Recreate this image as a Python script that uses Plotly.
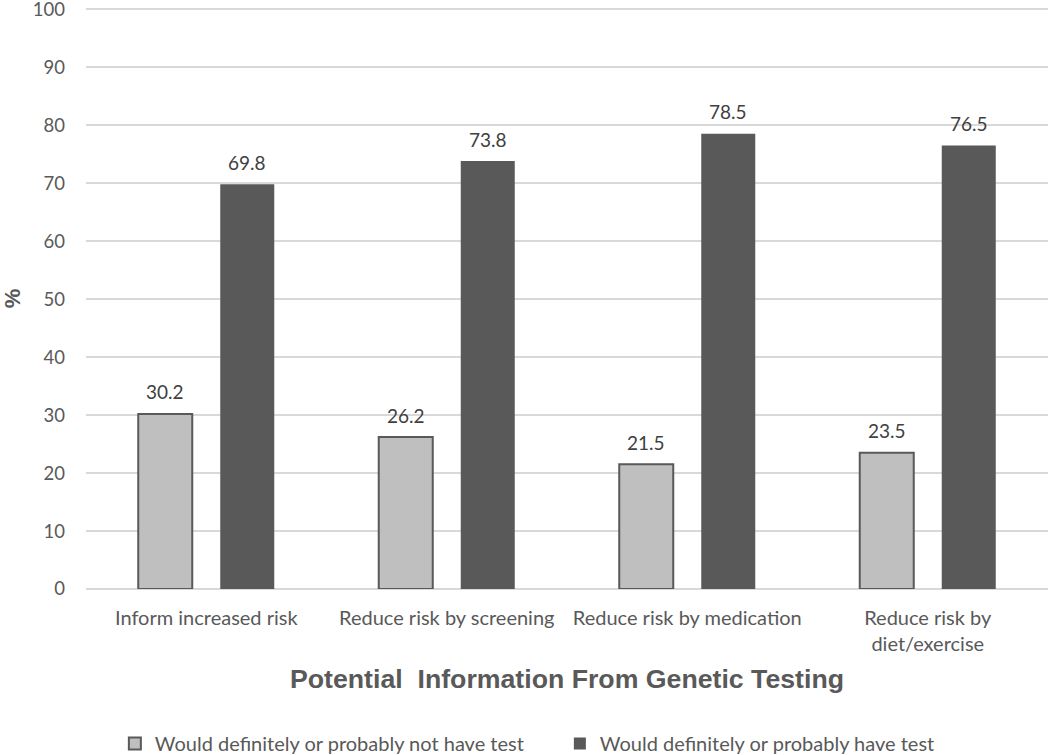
import plotly.graph_objects as go

categories = ["Inform increased risk", "Reduce risk by screening",
              "Reduce risk by medication", "Reduce risk by<br>diet/exercise"]
not_have = [30.2, 26.2, 21.5, 23.5]
have = [69.8, 73.8, 78.5, 76.5]
series_names = ["Would definitely or probably not have test",
                "Would definitely or probably have test"]

FONT = "Lato, 'Open Sans', sans-serif"
BOLD = "'Liberation Sans', Arial, sans-serif"

fig = go.Figure()
fig.add_trace(go.Bar(
    x=categories, y=not_have, name=series_names[0],
    marker=dict(color="#bfbfbf", line=dict(color="#595959", width=2)),
))
fig.add_trace(go.Bar(
    x=categories, y=have, name=series_names[1],
    marker=dict(color="#595959", line=dict(color="#595959", width=0)),
))

# data labels above the bars
for vals, shift in ((not_have, -41), (have, 41)):
    for c, v in zip(categories, vals):
        fig.add_annotation(x=c, y=v, text=f"{v:.1f}", showarrow=False,
                           xshift=shift, yshift=22, yanchor="middle",
                           font=dict(size=19, color="#404040", family=FONT))

fig.update_layout(
    width=1050, height=755,
    margin=dict(l=86, r=2, t=8, b=166, autoexpand=False),
    paper_bgcolor="white", plot_bgcolor="white",
    barmode="group", bargap=0.318, bargroupgap=0.3415,
    font=dict(family=FONT, size=18, color="#595959"),
    legend=dict(orientation="h", x=0.030, y=-0.266, xanchor="left", yanchor="middle",
                font=dict(size=20, color="#595959"), entrywidth=400,
                traceorder="normal", itemwidth=30),
    showlegend=True,
)
fig.update_xaxes(
    showgrid=False, showline=False, ticks="", automargin=False,
    tickfont=dict(size=20, color="#595959"), ticklabelstandoff=15,
    title=dict(text="<b>Potential  Information From Genetic Testing</b>",
               font=dict(family=BOLD, size=26.7, color="#595959"),
               standoff=15),
)
fig.update_yaxes(
    range=[0, 100.2], tick0=0, dtick=10, showgrid=True, gridcolor="#d9d9d9", gridwidth=2,
    zeroline=True, zerolinecolor="#d9d9d9", zerolinewidth=2, automargin=False,
    tickfont=dict(size=18.5, color="#595959"), ticklabelstandoff=20,
    ticklabeloverflow="allow",
    title=dict(text="<b>%</b>", font=dict(family=BOLD, size=22, color="#595959"),
               standoff=22),
)

fig.write_html("out.html", config={"displayModeBar": False},
               post_script="document.body.style.margin='0px';")
